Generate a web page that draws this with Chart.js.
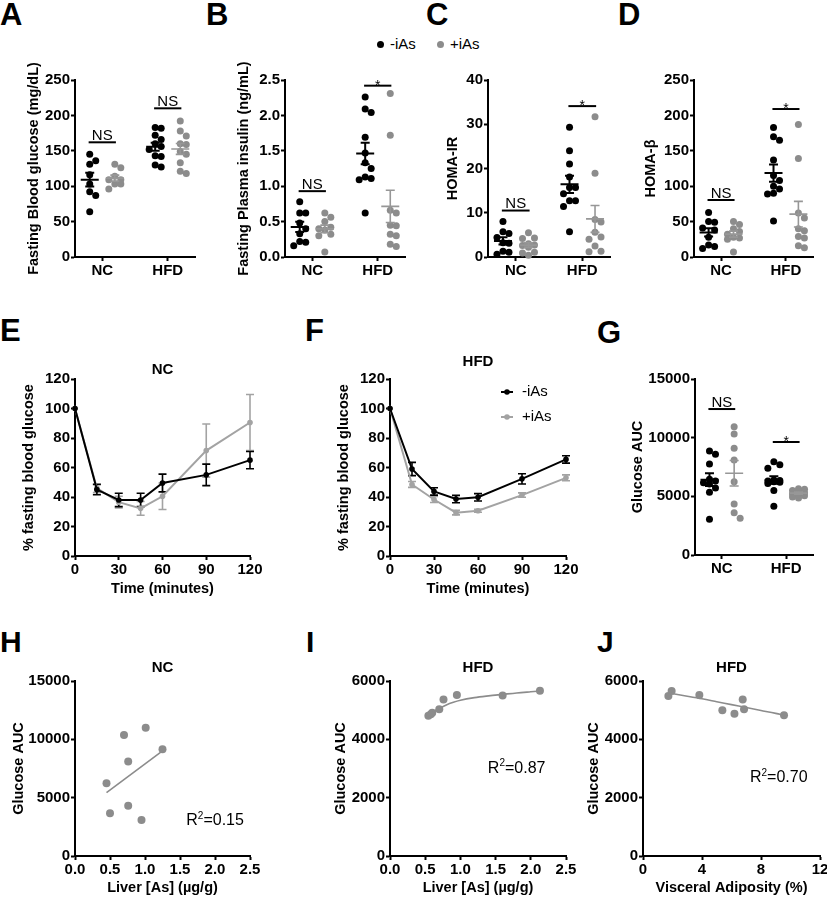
<!DOCTYPE html>
<html><head><meta charset="utf-8">
<script src="https://cdn.jsdelivr.net/npm/chart.js@4.4.1/dist/chart.umd.min.js"></script>
<style>
html,body{margin:0;padding:0;background:#fff;}
body{position:relative;width:827px;height:900px;overflow:hidden;font-family:"Liberation Sans",Arial,Helvetica,sans-serif;color:#000;}
canvas{position:absolute;}
.letter{position:absolute;font-weight:bold;line-height:1;}
.leg{position:absolute;font-size:15px;line-height:18px;white-space:nowrap;}
.dot{position:absolute;width:7px;height:7px;border-radius:50%;}
</style></head><body>
<div class="letter" style="left:0px;top:-1px;font-size:31px">A</div>
<div class="letter" style="left:206px;top:-1px;font-size:31px">B</div>
<div class="letter" style="left:426px;top:-1px;font-size:31px">C</div>
<div class="letter" style="left:618px;top:-1px;font-size:31px">D</div>
<div class="letter" style="left:0px;top:315px;font-size:31px">E</div>
<div class="letter" style="left:305px;top:315px;font-size:31px">F</div>
<div class="letter" style="left:597px;top:317px;font-size:31px">G</div>
<div class="letter" style="left:0px;top:627px;font-size:30px">H</div>
<div class="letter" style="left:306px;top:627px;font-size:30px">I</div>
<div class="letter" style="left:597px;top:627px;font-size:30px">J</div>

<div class="dot" style="left:377px;top:41px;background:#000"></div>
<div class="leg" style="left:390px;top:35px">-iAs</div>
<div class="dot" style="left:437px;top:41px;background:#8c8c8c"></div>
<div class="leg" style="left:450px;top:35px">+iAs</div>

<script>
// ---------------- DATA ----------------
const groups = ['NC', 'HFD'];
const seriesLabels = ['-iAs', '+iAs'];

// A: Fasting blood glucose (mg/dL)
const A_NC_neg  = [145, 136, 131, 116, 103, 92, 87, 64];
const A_NC_pos  = [131, 126, 114, 109, 109, 103, 103, 96];
const A_HFD_neg = [183, 182, 172, 166, 160, 156, 152, 143, 142, 130, 127];
const A_HFD_pos = [192, 178, 171, 160, 159, 149, 145, 133, 121, 118];
// B: Fasting plasma insulin (ng/mL)
const B_NC_neg  = [0.78, 0.62, 0.62, 0.48, 0.40, 0.33, 0.22, 0.21, 0.16];
const B_NC_pos  = [0.62, 0.56, 0.50, 0.42, 0.40, 0.38, 0.32, 0.30, 0.07];
const B_HFD_neg = [2.26, 2.09, 2.04, 1.69, 1.47, 1.33, 1.25, 1.13, 1.11, 1.09, 0.62];
const B_HFD_pos = [2.31, 1.72, 0.66, 0.62, 0.45, 0.44, 0.32, 0.30, 0.18, 0.15];
// C: HOMA-IR
const C_NC_neg  = [8.0, 5.7, 5.3, 4.4, 3.2, 3.1, 1.3, 1.1, 0.6];
const C_NC_pos  = [5.5, 4.3, 4.2, 3.0, 2.7, 2.6, 2.2, 1.1, 0.9, 0.4];
const C_HFD_neg = [29.3, 24.0, 21.0, 18.1, 15.7, 15.7, 14.3, 12.7, 12.7, 11.4, 5.7];
const C_HFD_pos = [31.7, 18.9, 8.5, 7.9, 5.6, 4.5, 4.0, 2.5, 1.3, 1.2];
// D: HOMA-beta
const D_NC_neg  = [63, 50, 49, 41, 38, 28, 17, 15, 12];
const D_NC_pos  = [50, 46, 40, 36, 32, 28, 27, 25, 7];
const D_HFD_neg = [183, 170, 165, 137, 115, 108, 100, 96, 90, 89, 51];
const D_HFD_pos = [187, 139, 62, 55, 40, 37, 29, 27, 16, 13];
// G: Glucose AUC
const G_NC_neg  = [8860, 8580, 7750, 6450, 6300, 6150, 6050, 5700, 5350, 3050];
const G_NC_pos  = [10940, 10310, 9090, 8100, 6250, 4350, 3610, 3130];
const G_HFD_neg = [7950, 7700, 7400, 6400, 6350, 6300, 6250, 6200, 6100, 5500, 4150];
const G_HFD_pos = [5650, 5600, 5500, 5450, 5300, 5200, 5150, 5050, 4950, 4850];

// E / F: ITT, % fasting blood glucose
const time = [0, 15, 30, 45, 60, 90, 120];
const E_neg_mean = [100, 45, 38, 38, 49.5, 55, 65];
const E_neg_sem  = [0, 3.5, 4.5, 4.5, 6, 7.3, 5.8];
const E_pos_mean = [100, 46, 36.5, 32.3, 40.5, 71.5, 90.5];
const E_pos_sem  = [0, 3, 4, 4.7, 9, 18, 19];
const F_neg_mean = [100, 59, 43.8, 38.6, 39.8, 52.3, 65.5];
const F_neg_sem  = [0, 4.5, 2.5, 2.5, 2.5, 3.5, 2.5];
const F_pos_mean = [100, 48.5, 38.3, 29.4, 30.7, 41.3, 53];
const F_pos_sem  = [0, 2, 2, 1.5, 1, 1.5, 2];

// H, I, J: correlations
const H_x = [0.45, 0.50, 0.70, 0.76, 0.76, 1.01, 0.95, 1.25];
const H_y = [6230, 3660, 10370, 8090, 4310, 11000, 3090, 9140];
const I_x = [0.545, 0.58, 0.60, 0.70, 0.76, 0.95, 1.60, 2.13];
const I_y = [4810, 4860, 4910, 5030, 5370, 5520, 5500, 5670];
const I_fitX = [0.53, 0.6, 0.7, 0.8, 0.9, 1.0, 1.2, 1.4, 1.6, 1.8, 2.0, 2.13];
const I_fitY = [4790, 4920, 5060, 5180, 5270, 5340, 5430, 5490, 5540, 5590, 5630, 5655];
const J_x = [1.72, 1.94, 3.82, 5.38, 6.2, 6.76, 6.85, 9.56];
const J_y = [5490, 5660, 5520, 5000, 4880, 5370, 5030, 4830];
const J_fitX = [1.72, 3, 4, 5, 6, 7, 8, 9, 9.6];
const J_fitY = [5590, 5480, 5390, 5290, 5190, 5090, 4990, 4890, 4820];
const r2Labels = ['0.15', '0.87', '0.70'];

// tick values
const ticksA = [0, 50, 100, 150, 200, 250];
const ticksB = [0, 0.5, 1, 1.5, 2, 2.5];
const ticksC = [0, 10, 20, 30, 40];
const ticksD = [0, 50, 100, 150, 200, 250];
const ticksEF_y = [0, 20, 40, 60, 80, 100, 120];
const ticksEF_x = [0, 30, 60, 90, 120];
const ticksG = [0, 5000, 10000, 15000];
const ticksH_y = [0, 5000, 10000, 15000];
const ticksHI_x = [0, 0.5, 1, 1.5, 2, 2.5];
const ticksIJ_y = [0, 2000, 4000, 6000];
const ticksJ_x = [0, 4, 8, 12];

// ---------------- RENDERING ----------------
const FONT = '"Liberation Sans", Arial, Helvetica, sans-serif';
const BLACK = '#000000', GRAY = '#8c8c8c', GRAY_BAR = '#979797', GRAY_LINE = '#a3a3a3';
const dotColors = [BLACK, GRAY];
const barColors = [BLACK, GRAY_BAR];
const groupPos = [1, 3.4];
const seriesShift = [-0.46, 0.46];
const X_MAX_DOT = 4.4;

function mean(a){ return a.reduce((s,v)=>s+v,0)/a.length; }
function sem(a){ const m=mean(a); return Math.sqrt(a.reduce((s,v)=>s+(v-m)*(v-m),0)/(a.length-1))/Math.sqrt(a.length); }

// deterministic column-scatter arrangement (like GraphPad), no randomness
function swarm(vals, center, pxX, pxY){
  const STEP = 6, MIN = 6.6, MAXK = 2;
  const order = vals.map((v,i)=>i).sort((a,b)=>vals[b]-vals[a]);
  const placed = [], out = [];
  order.forEach(i=>{
    const yp = vals[i]*pxY;
    let best = null, bestD = -1;
    for (let k=0;k<=MAXK;k++){
      const n = Math.ceil(k/2), off = (k%2===1 ? n : -n)*STEP;
      const d = placed.length ? Math.min(...placed.map(p=>Math.hypot(p.x-off,p.y-yp))) : 1e9;
      if (d >= MIN){ best = off; break; }
      if (d > bestD){ bestD = d; best = off; }
    }
    placed.push({x:best, y:yp});
    out[i] = center + best/pxX;
  });
  return out;
}

function linScale(min, max, ticks, fmt, title){
  return {
    type:'linear', min, max,
    afterBuildTicks: s => { s.ticks = ticks.map(v => ({value:v})); },
    ticks:{color:'#000', font:{family:FONT, size:15, weight:'bold'}, padding:1, autoSkip:false, maxRotation:0, callback: v => fmt(v)},
    grid:{display:true, drawOnChartArea:false, drawTicks:true, tickLength:4, tickWidth:2, tickColor:'#000'},
    border:{display:true, color:'#000', width:2},
    title:{display:!!title, text:title||'', color:'#000', font:{family:FONT, size:14.5, weight:'bold'}, padding:0}
  };
}

function makeDeco(o){
  return {
    id:'deco',
    beforeDatasetsDraw(chart){
      if (!o.lineErr) return;
      const {ctx, scales:{x,y}} = chart;
      ctx.save();
      o.lineErr.forEach(e=>{
        ctx.strokeStyle = e.color; ctx.lineWidth = 1.6;
        e.xs.forEach((t,i)=>{
          if (!e.sem[i]) return;
          const xp = x.getPixelForValue(t), hi = y.getPixelForValue(e.mean[i]+e.sem[i]), lo = y.getPixelForValue(e.mean[i]-e.sem[i]);
          ctx.beginPath();
          ctx.moveTo(xp,hi); ctx.lineTo(xp,lo);
          ctx.moveTo(xp-4,hi); ctx.lineTo(xp+4,hi);
          ctx.moveTo(xp-4,lo); ctx.lineTo(xp+4,lo);
          ctx.stroke();
        });
      });
      ctx.restore();
    },
    afterDatasetsDraw(chart){
      const {ctx, chartArea:ca, scales:{x,y}} = chart;
      ctx.save();
      (o.summary||[]).forEach(s=>{
        const xp = x.getPixelForValue(s.x), m = y.getPixelForValue(s.mean);
        const hi = y.getPixelForValue(s.mean+s.sem), lo = y.getPixelForValue(s.mean-s.sem);
        ctx.strokeStyle = s.color; ctx.lineWidth = s.lw;
        ctx.beginPath();
        ctx.moveTo(xp-9,m); ctx.lineTo(xp+9,m);
        ctx.moveTo(xp,hi); ctx.lineTo(xp,lo);
        ctx.moveTo(xp-4.5,hi); ctx.lineTo(xp+4.5,hi);
        ctx.moveTo(xp-4.5,lo); ctx.lineTo(xp+4.5,lo);
        ctx.stroke();
      });
      (o.sig||[]).forEach(s=>{
        const x1 = x.getPixelForValue(groupPos[s.g]-0.5), x2 = x.getPixelForValue(groupPos[s.g]+0.5);
        const yp = y.getPixelForValue(s.y);
        ctx.strokeStyle = '#000'; ctx.lineWidth = 2;
        ctx.beginPath(); ctx.moveTo(x1,yp); ctx.lineTo(x2,yp); ctx.stroke();
        ctx.fillStyle = '#000'; ctx.textAlign = 'center'; ctx.textBaseline = 'alphabetic';
        if (s.text === '*'){ ctx.font = '14px '+FONT; ctx.fillText('*', (x1+x2)/2, yp+4); }
        else { ctx.font = '15px '+FONT; ctx.fillText(s.text, (x1+x2)/2, yp-2.5); }
      });
      if (o.title){
        ctx.fillStyle = '#000'; ctx.font = 'bold 15px '+FONT; ctx.textAlign='center'; ctx.textBaseline='middle';
        ctx.fillText(o.title.text, (ca.left+ca.right)/2, ca.top + o.title.dy);
      }
      if (o.r2){
        const r = o.r2;
        let xp = x.getPixelForValue(r.x); const yb = y.getPixelForValue(r.y) + 5.5;
        ctx.fillStyle = '#000'; ctx.textAlign='left'; ctx.textBaseline='alphabetic';
        ctx.font = '16px '+FONT; ctx.fillText('R', xp, yb); xp += ctx.measureText('R').width;
        ctx.font = '10px '+FONT; ctx.fillText('2', xp, yb-6.5); xp += ctx.measureText('2').width;
        ctx.font = '16px '+FONT; ctx.fillText('='+r.text, xp, yb);
      }
      (o.legend||[]).forEach(l=>{
        const yy = ca.top + l.dy, x0 = ca.left + 111;
        ctx.strokeStyle = l.color; ctx.lineWidth = 2;
        ctx.beginPath(); ctx.moveTo(x0,yy); ctx.lineTo(x0+12,yy); ctx.stroke();
        ctx.fillStyle = l.color; ctx.beginPath(); ctx.arc(x0+6,yy,2.8,0,Math.PI*2); ctx.fill();
        ctx.fillStyle = '#000'; ctx.font = '15px '+FONT; ctx.textAlign='left'; ctx.textBaseline='middle';
        ctx.fillText(l.text, x0+21, yy);
      });
      ctx.restore();
    }
  };
}

function panel(geo, datasets, xs, ys, deco){
  const W = geo.yW + geo.w + geo.padR, H = geo.padT + geo.h + geo.xH;
  const c = document.createElement('canvas');
  c.width = W; c.height = H;
  c.style.left = (geo.l - geo.yW)+'px'; c.style.top = (geo.t - geo.padT)+'px';
  c.style.width = W+'px'; c.style.height = H+'px';
  document.body.appendChild(c);
  xs.afterFit = s => { s.height = geo.xH; };
  ys.afterFit = s => { s.width = geo.yW; };
  datasets.forEach(d => { d.clip = false; });
  new Chart(c, {
    type:'scatter',
    data:{datasets},
    options:{
      responsive:false, animation:false, devicePixelRatio:1, events:[],
      layout:{padding:{top:geo.padT, right:geo.padR, left:0, bottom:0}},
      scales:{x:xs, y:ys},
      plugins:{legend:{display:false}, tooltip:{enabled:false}, title:{display:false}}
    },
    plugins:[makeDeco(deco)]
  });
}

function dotPanel(geo, ymax, yticks, yfmt, ytitle, values, sig){
  const pxX = geo.w / X_MAX_DOT, pxY = geo.h / ymax;
  const datasets = [], summary = [];
  values.forEach((pair,g)=>pair.forEach((vals,s)=>{
    const cx = groupPos[g] + seriesShift[s];
    const xsPos = swarm(vals, cx, pxX, pxY);
    datasets.push({label: groups[g]+' '+seriesLabels[s], data: vals.map((v,i)=>({x:xsPos[i], y:v})),
      pointRadius:3.5, pointHoverRadius:3.5, pointBorderWidth:0, pointBackgroundColor:dotColors[s], backgroundColor:dotColors[s]});
    summary.push({x:cx, mean:mean(vals), sem:sem(vals), color:barColors[s], lw: s ? 1.6 : 2});
  }));
  const xs = linScale(0, X_MAX_DOT, groupPos, v => groups[groupPos.indexOf(v)] || '', null);
  const ys = linScale(0, ymax, yticks, yfmt, ytitle);
  panel(geo, datasets, xs, ys, {summary, sig});
}

const int = v => String(v);
const one = v => v.toFixed(1);

dotPanel({l:75,t:80,w:120,h:177,yW:50,padT:40,padR:20,xH:25}, 250, ticksA, int, 'Fasting Blood glucose (mg/dL)',
  [[A_NC_neg, A_NC_pos],[A_HFD_neg, A_HFD_pos]], [{g:0,y:162,text:'NS'},{g:1,y:210,text:'NS'}]);
dotPanel({l:285,t:80,w:120,h:177,yW:50,padT:40,padR:20,xH:25}, 2.5, ticksB, one, 'Fasting Plasma insulin (ng/mL)',
  [[B_NC_neg, B_NC_pos],[B_HFD_neg, B_HFD_pos]], [{g:0,y:0.93,text:'NS'},{g:1,y:2.42,text:'*'}]);
dotPanel({l:488,t:80,w:122,h:177,yW:44,padT:40,padR:20,xH:25}, 40, ticksC, int, 'HOMA-IR',
  [[C_NC_neg, C_NC_pos],[C_HFD_neg, C_HFD_pos]], [{g:0,y:10.5,text:'NS'},{g:1,y:34.1,text:'*'}]);
dotPanel({l:694,t:80,w:119,h:177,yW:52,padT:40,padR:14,xH:25}, 250, ticksD, int, 'HOMA-\u03B2',
  [[D_NC_neg, D_NC_pos],[D_HFD_neg, D_HFD_pos]], [{g:0,y:80.5,text:'NS'},{g:1,y:209,text:'*'}]);
dotPanel({l:695,t:379,w:118,h:176,yW:66,padT:30,padR:12,xH:25}, 15000, ticksG, int, 'Glucose AUC',
  [[G_NC_neg, G_NC_pos],[G_HFD_neg, G_HFD_pos]], [{g:0,y:12440,text:'NS'},{g:1,y:9630,text:'*'}]);

function ittPanel(geo, negM, negS, posM, posS, title, legend){
  const mk = (m, color, label) => ({label, data: time.map((t,i)=>({x:t, y:m[i]})), showLine:true,
    borderColor:color, borderWidth:2, pointRadius:2.8, pointHoverRadius:2.8, pointBorderWidth:0,
    pointBackgroundColor:color, backgroundColor:color, tension:0});
  const datasets = [mk(negM, BLACK, seriesLabels[0]), mk(posM, GRAY_LINE, seriesLabels[1])];
  const xs = linScale(0, 120, ticksEF_x, int, 'Time (minutes)');
  const ys = linScale(0, 120, ticksEF_y, int, '% fasting blood glucose');
  panel(geo, datasets, xs, ys, {
    lineErr:[{xs:time, mean:posM, sem:posS, color:GRAY_LINE},{xs:time, mean:negM, sem:negS, color:BLACK}],
    title, legend: legend ? [{text:seriesLabels[0], color:BLACK, dy:13},{text:seriesLabels[1], color:GRAY_LINE, dy:38}] : null
  });
}
ittPanel({l:75,t:379,w:175,h:177,yW:55,padT:30,padR:22,xH:42}, E_neg_mean, E_neg_sem, E_pos_mean, E_pos_sem, {text:'NC', dy:-9}, false);
ittPanel({l:390,t:379,w:176,h:177,yW:55,padT:30,padR:22,xH:42}, F_neg_mean, F_neg_sem, F_pos_mean, F_pos_sem, {text:'HFD', dy:-17}, true);

function corrPanel(geo, px, py, fx, fy, xmax, xticks, xfmt, xtitle, ymax, yticks, title, r2){
  const datasets = [
    {label:'fit', data: fx.map((v,i)=>({x:v, y:fy[i]})), showLine:true, borderColor:GRAY, borderWidth:1.6,
     pointRadius:0, pointHoverRadius:0, tension:0.4, cubicInterpolationMode:'monotone'},
    {label:'data', data: px.map((v,i)=>({x:v, y:py[i]})), pointRadius:4, pointHoverRadius:4, pointBorderWidth:0,
     pointBackgroundColor:GRAY, backgroundColor:GRAY}
  ];
  const xs = linScale(0, xmax, xticks, xfmt, xtitle);
  const ys = linScale(0, ymax, yticks, int, 'Glucose AUC');
  panel(geo, datasets, xs, ys, {title, r2});
}
// H: linear regression from data
const Hmx = mean(H_x), Hmy = mean(H_y);
const Hslope = H_x.reduce((s,v,i)=>s+(v-Hmx)*(H_y[i]-Hmy),0) / H_x.reduce((s,v)=>s+(v-Hmx)*(v-Hmx),0);
const H_fitX = [Math.min(...H_x), Math.max(...H_x)];
const H_fitY = H_fitX.map(v => Hmy + Hslope*(v-Hmx));

corrPanel({l:75,t:681,w:175,h:175,yW:65,padT:25,padR:22,xH:41}, H_x, H_y, H_fitX, H_fitY, 2.5, ticksHI_x, one, 'Liver [As] (\u00B5g/g)',
  15000, ticksH_y, {text:'NC', dy:-13}, {x:1.59, y:3090, text:r2Labels[0]});
corrPanel({l:390,t:681,w:176,h:175,yW:58,padT:25,padR:22,xH:41}, I_x, I_y, I_fitX, I_fitY, 2.5, ticksHI_x, one, 'Liver [As] (\u00B5g/g)',
  6000, ticksIJ_y, {text:'HFD', dy:-13}, {x:1.39, y:3050, text:r2Labels[1]});
corrPanel({l:643,t:681,w:177,h:175,yW:58,padT:25,padR:10,xH:41}, J_x, J_y, J_fitX, J_fitY, 12, ticksJ_x, int, 'Visceral Adiposity (%)',
  6000, ticksIJ_y, {text:'HFD', dy:-13}, {x:7.25, y:2710, text:r2Labels[2]});
</script>
</body></html>
